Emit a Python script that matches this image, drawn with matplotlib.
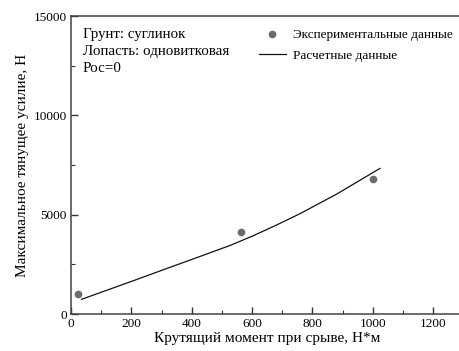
import matplotlib
matplotlib.use("Agg")
from matplotlib import pyplot as plt
from matplotlib.ticker import MultipleLocator

plt.rcParams['font.family'] = ['Liberation Serif', 'DejaVu Serif']

# experimental points
exp_x = [24, 562, 1002]
exp_y = [990, 4110, 6780]

# calculated curve
calc_x = [35, 200, 330, 430, 527, 604, 680, 759, 881, 1024]
calc_y = [740, 1640, 2360, 2910, 3450, 3940, 4470, 5050, 6040, 7330]

notes = ['Грунт: суглинок', 'Лопасть: одновитковая', 'Рос=0']

fig = plt.figure(figsize=(4.59, 3.51), dpi=100)
ax = fig.add_axes([0.1547, 0.1054, 0.8545, 0.849])

ax.plot(exp_x, exp_y, 'o', color='#6b6b6b', markersize=4.5, label='Экспериментальные данные')
ax.plot(calc_x, calc_y, '-', color='#111111', linewidth=0.9, label='Расчетные данные')

ax.set_xlim(0, 1300)
ax.set_ylim(0, 15000)
ax.set_xticks([0, 200, 400, 600, 800, 1000, 1200])
ax.set_yticks([0, 5000, 10000, 15000])
ax.xaxis.set_minor_locator(MultipleLocator(100))
ax.yaxis.set_minor_locator(MultipleLocator(2500))
ax.tick_params(which='both', direction='in', labelsize=9.5, color='#333333', pad=3)
ax.tick_params(which='major', length=5, width=1)
ax.tick_params(which='minor', length=3, width=0.8)
for s in ax.spines.values():
    s.set_color('#444444')
    s.set_linewidth(1.1)

ax.set_xlabel('Крутящий момент при срыве, Н*м', fontsize=11, labelpad=1)
ax.set_ylabel('Максимальное тянущее усилие, Н', fontsize=11, labelpad=3)

ax.text(0.03, 0.96, '\n'.join(notes), transform=ax.transAxes, fontsize=10.8,
        va='top', ha='left', linespacing=1.38)

ax.legend(loc='upper left', bbox_to_anchor=(0.458, 0.985), frameon=False, fontsize=9.5,
          handlelength=2.0, handletextpad=0.55, borderaxespad=0.25, labelspacing=0.62)

fig.savefig('out.png', dpi=100)
